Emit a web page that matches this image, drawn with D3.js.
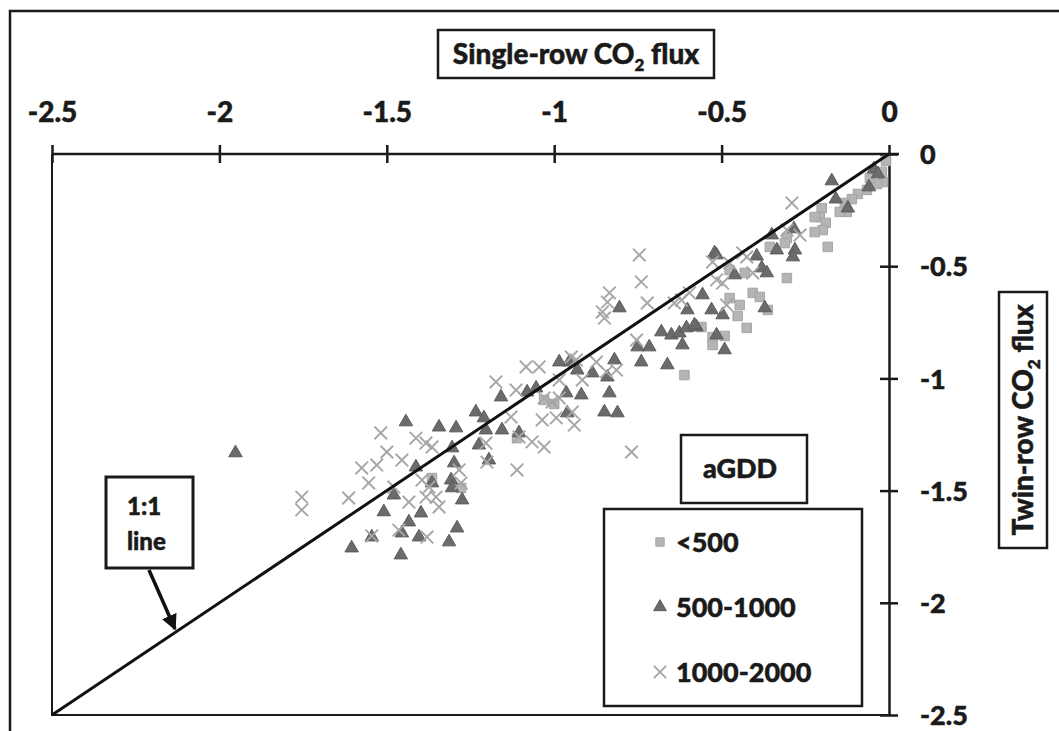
<!doctype html>
<html>
  <head>
    <script src="https://cdnjs.cloudflare.com/ajax/libs/d3/7.8.5/d3.min.js"></script>
  <style>
    body { margin: 0; background: #fff; }
    text { font-family: Lato, "Open Sans", sans-serif; font-weight: 900; fill: #1a1a1a; stroke: #1a1a1a; stroke-width: 0.5px; }
    path.domain { stroke: #1a1a1a; stroke-width: 2.5px; }
    .tick line { stroke: #1a1a1a; stroke-width: 2.5px; }
  </style>
  </head>
  <body>
    <svg id="chart" width="1059" height="731"></svg>
    <script>
      // axis ticks
      var xTicks = [-2.5, -2, -1.5, -1, -0.5, 0];
      var yTicks = [0, -0.5, -1, -1.5, -2, -2.5];
      var seriesNames = ["<500", "500-1000", "1000-2000"];

      // [single-row flux, twin-row flux]
      var gddLow = [
        [-0.009,-0.031],[-0.021,-0.080],[-0.018,-0.125],[-0.036,-0.134],[-0.066,-0.160],
        [-0.093,-0.178],[-0.111,-0.201],[-0.132,-0.218],[-0.126,-0.258],[-0.147,-0.258],
        [-0.201,-0.241],[-0.207,-0.281],[-0.189,-0.307],[-0.198,-0.339],[-0.222,-0.348],
        [-0.222,-0.281],[-0.183,-0.414],[-0.305,-0.374],[-0.356,-0.414],[-0.305,-0.553],
        [-0.407,-0.619],[-0.386,-0.637],[-0.362,-0.695],[-0.446,-0.673],[-0.452,-0.722],
        [-0.425,-0.775],[-0.476,-0.642],[-0.491,-0.811],[-0.527,-0.816],[-0.527,-0.851],
        [-0.560,-0.771],[-0.611,-0.985],[-0.476,-0.517],[-0.431,-0.530],[-1.030,-1.096],
        [-1.000,-1.114],[-1.278,-1.488],[-1.365,-1.444],[-0.311,-0.397],[-0.057,-0.107],
        [-1.111,-1.266]
      ];
      var gddMid = [
        [-1.952,-1.332],[-1.443,-1.194],[-1.344,-1.217],[-1.293,-1.221],[-1.305,-1.310],
        [-1.413,-1.395],[-1.299,-1.377],[-1.308,-1.453],[-1.365,-1.466],[-1.305,-1.488],
        [-1.275,-1.542],[-1.479,-1.520],[-1.509,-1.595],[-1.398,-1.600],[-1.434,-1.640],
        [-1.290,-1.667],[-1.545,-1.707],[-1.455,-1.689],[-1.404,-1.707],[-1.314,-1.729],
        [-1.605,-1.756],[-1.458,-1.787],[-1.234,-1.150],[-1.210,-1.176],[-1.204,-1.230],
        [-1.159,-1.083],[-1.156,-1.230],[-1.225,-1.297],[-1.081,-1.061],[-1.054,-1.043],
        [-0.985,-0.927],[-0.955,-0.927],[-0.931,-0.963],[-0.886,-0.976],[-0.919,-1.074],
        [-0.964,-1.065],[-0.961,-1.154],[-1.105,-1.243],[-0.820,-0.918],[-0.841,-0.994],
        [-0.835,-1.065],[-0.850,-1.150],[-0.811,-1.154],[-0.805,-0.686],[-0.751,-0.860],
        [-0.716,-0.860],[-0.740,-0.927],[-0.662,-0.940],[-0.680,-0.793],[-0.650,-0.807],
        [-0.626,-0.798],[-0.605,-0.775],[-0.575,-0.771],[-0.617,-0.851],[-1.195,-1.364],
        [-0.521,-0.441],[-0.557,-0.628],[-0.530,-0.695],[-0.497,-0.717],[-0.602,-0.695],
        [-0.581,-0.762],[-0.515,-0.807],[-0.491,-0.873],[-0.171,-0.120],[-0.159,-0.201],
        [-0.123,-0.241],[-0.060,-0.147],[-0.045,-0.067],[-0.033,-0.089],[-0.281,-0.428],
        [-0.287,-0.459],[-0.335,-0.428],[-0.350,-0.361],[-0.395,-0.455],[-0.380,-0.508],
        [-0.461,-0.539],[-0.515,-0.450],[-0.371,-0.686],[-0.284,-0.334],[-0.365,-0.530]
      ];
      var gddHigh = [
        [-1.754,-1.529],[-1.754,-1.586],[-1.614,-1.533],[-1.518,-1.243],[-1.500,-1.328],
        [-1.575,-1.399],[-1.530,-1.386],[-1.554,-1.466],[-1.455,-1.364],[-1.413,-1.266],
        [-1.383,-1.288],[-1.365,-1.306],[-1.395,-1.453],[-1.374,-1.484],[-1.353,-1.529],
        [-1.344,-1.573],[-1.383,-1.529],[-1.434,-1.551],[-1.464,-1.676],[-1.545,-1.702],
        [-1.380,-1.707],[-1.284,-1.408],[-1.278,-1.466],[-1.479,-1.484],[-1.204,-1.288],
        [-1.201,-1.373],[-1.174,-1.016],[-1.114,-1.052],[-1.129,-1.172],[-1.105,-1.261],
        [-1.084,-0.949],[-1.045,-0.949],[-1.066,-1.283],[-1.030,-1.306],[-1.036,-1.185],
        [-0.994,-1.176],[-1.111,-1.408],[-0.946,-1.150],[-0.940,-1.208],[-0.916,-1.007],
        [-0.934,-0.918],[-0.985,-1.007],[-0.949,-0.905],[-0.874,-0.927],[-0.844,-0.971],
        [-0.814,-0.963],[-0.769,-1.328],[-0.850,-0.731],[-0.841,-0.660],[-0.835,-0.619],
        [-0.856,-0.704],[-0.746,-0.450],[-0.740,-0.570],[-0.722,-0.664],[-0.641,-0.664],
        [-0.620,-0.651],[-0.596,-0.619],[-0.754,-0.829],[-0.527,-0.481],[-0.515,-0.561],
        [-0.497,-0.575],[-0.476,-0.486],[-0.437,-0.441],[-0.485,-0.673],[-0.407,-0.530],
        [-0.425,-0.459],[-0.305,-0.339],[-0.266,-0.361],[-0.290,-0.218],[-1.030,-1.087],
        [-1.006,-1.105],[-0.985,-1.087]
      ];

      var svg = d3.select("#chart");

      var x = d3.scaleLinear().domain([-2.5, 0]).range([52, 889]);
      var y = d3.scaleLinear().domain([-2.5, 0]).range([715, 154]);
      var fmt = function(d) { return String(d); };

      // outer frame
      svg.append("rect")
        .attr("x", 10).attr("y", 11).attr("width", 1070).attr("height", 740)
        .attr("fill", "none").attr("stroke", "#1a1a1a").attr("stroke-width", 2.5);

      // plot border (left / bottom)
      svg.append("path")
        .attr("d", "M" + x(-2.5) + "," + y(0) + "V" + y(-2.5) + "H" + x(0))
        .attr("fill", "none").attr("stroke", "#1a1a1a").attr("stroke-width", 2);

      var xAxis = d3.axisTop(x).tickValues(xTicks).tickSizeOuter(0).tickSizeInner(9).tickPadding(0).tickFormat(fmt);
      var xg = svg.append("g").attr("transform", "translate(0," + y(0) + ")").call(xAxis);
      xg.selectAll(".tick line").attr("y1", 9).attr("y2", -9);
      xg.selectAll(".tick text").attr("y", -32).style("font-size", "28px").attr("dy", 0);
      xg.select(".domain").attr("d", "M" + x(-2.5) + ",0H" + (x(0) + 10));

      var yAxis = d3.axisRight(y).tickValues(yTicks).tickSizeOuter(0).tickSizeInner(9).tickFormat(fmt);
      var yg = svg.append("g").attr("transform", "translate(" + x(0) + ",0)").call(yAxis);
      yg.selectAll(".tick line").attr("x1", -9).attr("x2", 9);
      yg.selectAll(".tick text").attr("x", 31).style("font-size", "27px").attr("dy", "0.36em");

      // data
      var pts = svg.append("g");
      pts.selectAll("path.low").data(gddLow).enter().append("path")
        .attr("class", "low")
        .attr("d", d3.symbol(d3.symbolSquare, 90))
        .attr("transform", function(d) { return "translate(" + x(d[0]) + "," + y(d[1]) + ")"; })
        .attr("fill", "#b5b5b5").attr("stroke", "#a5a5a5").attr("stroke-width", 1);
      pts.selectAll("path.mid").data(gddMid).enter().append("path")
        .attr("class", "mid")
        .attr("d", d3.symbol(d3.symbolTriangle, 78))
        .attr("transform", function(d) { return "translate(" + x(d[0]) + "," + y(d[1]) + ")"; })
        .attr("fill", "#6b6b6b").attr("stroke", "#5c5c5c").attr("stroke-width", 1);
      pts.selectAll("path.high").data(gddHigh).enter().append("path")
        .attr("class", "high")
        .attr("d", d3.symbol(d3.symbolTimes, 105))
        .attr("transform", function(d) { return "translate(" + x(d[0]) + "," + y(d[1]) + ")"; })
        .attr("fill", "none").attr("stroke", "#a6a6a6").attr("stroke-width", 1.9);

      // 1:1 line
      svg.append("line")
        .attr("x1", x(-2.5)).attr("y1", y(-2.5)).attr("x2", x(0)).attr("y2", y(0))
        .attr("stroke", "#111").attr("stroke-width", 3);

      // x title
      svg.append("rect").attr("x", 438).attr("y", 30).attr("width", 276).attr("height", 48)
        .attr("fill", "#fff").attr("stroke", "#1a1a1a").attr("stroke-width", 2.5);
      var xt = svg.append("text").attr("x", 576).attr("y", 64).attr("text-anchor", "middle").attr("font-size", 28);
      xt.append("tspan").text("Single-row CO");
      xt.append("tspan").attr("font-size", 17).attr("dy", 7).text("2");
      xt.append("tspan").attr("dy", -7).text(" flux");

      // y title
      svg.append("rect").attr("x", 999).attr("y", 292).attr("width", 48).attr("height", 256)
        .attr("fill", "#fff").attr("stroke", "#1a1a1a").attr("stroke-width", 2.5);
      var yt = svg.append("text").attr("transform", "translate(1033,420) rotate(-90)")
        .attr("text-anchor", "middle").attr("font-size", 28);
      yt.append("tspan").text("Twin-row CO");
      yt.append("tspan").attr("font-size", 17).attr("dy", 7).text("2");
      yt.append("tspan").attr("dy", -7).text(" flux");

      // legend
      svg.append("rect").attr("x", 681).attr("y", 435).attr("width", 126).attr("height", 68)
        .attr("fill", "#fff").attr("stroke", "#1a1a1a").attr("stroke-width", 2.5);
      svg.append("text").attr("x", 740).attr("y", 478).attr("text-anchor", "middle").attr("font-size", 27).text("aGDD");
      svg.append("rect").attr("x", 604).attr("y", 509).attr("width", 258).attr("height", 197)
        .attr("fill", "#fff").attr("stroke", "#1a1a1a").attr("stroke-width", 2.5);
      var legY = d3.scalePoint().domain(seriesNames).range([542, 672]);
      var shapes = [
        { sym: d3.symbolSquare, size: 70, fill: "#b5b5b5", stroke: "#a5a5a5", sw: 1 },
        { sym: d3.symbolTriangle, size: 70, fill: "#6b6b6b", stroke: "#5c5c5c", sw: 1 },
        { sym: d3.symbolTimes, size: 100, fill: "none", stroke: "#a6a6a6", sw: 1.9 }
      ];
      seriesNames.forEach(function(name, i) {
        var s = shapes[i];
        svg.append("path")
          .attr("d", d3.symbol(s.sym, s.size))
          .attr("transform", "translate(660," + legY(name) + ")")
          .attr("fill", s.fill).attr("stroke", s.stroke).attr("stroke-width", s.sw);
        svg.append("text").attr("x", 676).attr("y", legY(name)).attr("dy", "0.36em")
          .attr("font-size", 27).text(name);
      });

      // 1:1 label with arrow
      svg.append("defs").append("marker")
        .attr("id", "arr").attr("viewBox", "0 0 10 10").attr("refX", 9).attr("refY", 5)
        .attr("markerWidth", 4.5).attr("markerHeight", 4.5).attr("orient", "auto")
        .append("path").attr("d", "M0,0L10,5L0,10Z").attr("fill", "#111");
      svg.append("rect").attr("x", 106).attr("y", 477).attr("width", 87).attr("height", 91)
        .attr("fill", "#fff").attr("stroke", "#1a1a1a").attr("stroke-width", 3);
      svg.append("text").attr("x", 127).attr("y", 515).attr("font-size", 24).text("1:1");
      svg.append("text").attr("x", 127).attr("y", 550).attr("font-size", 24).text("line");
      svg.append("line").attr("x1", 149).attr("y1", 570).attr("x2", 175).attr("y2", 629)
        .attr("stroke", "#111").attr("stroke-width", 3.5).attr("marker-end", "url(#arr)");
    </script>
  </body>
</html>
